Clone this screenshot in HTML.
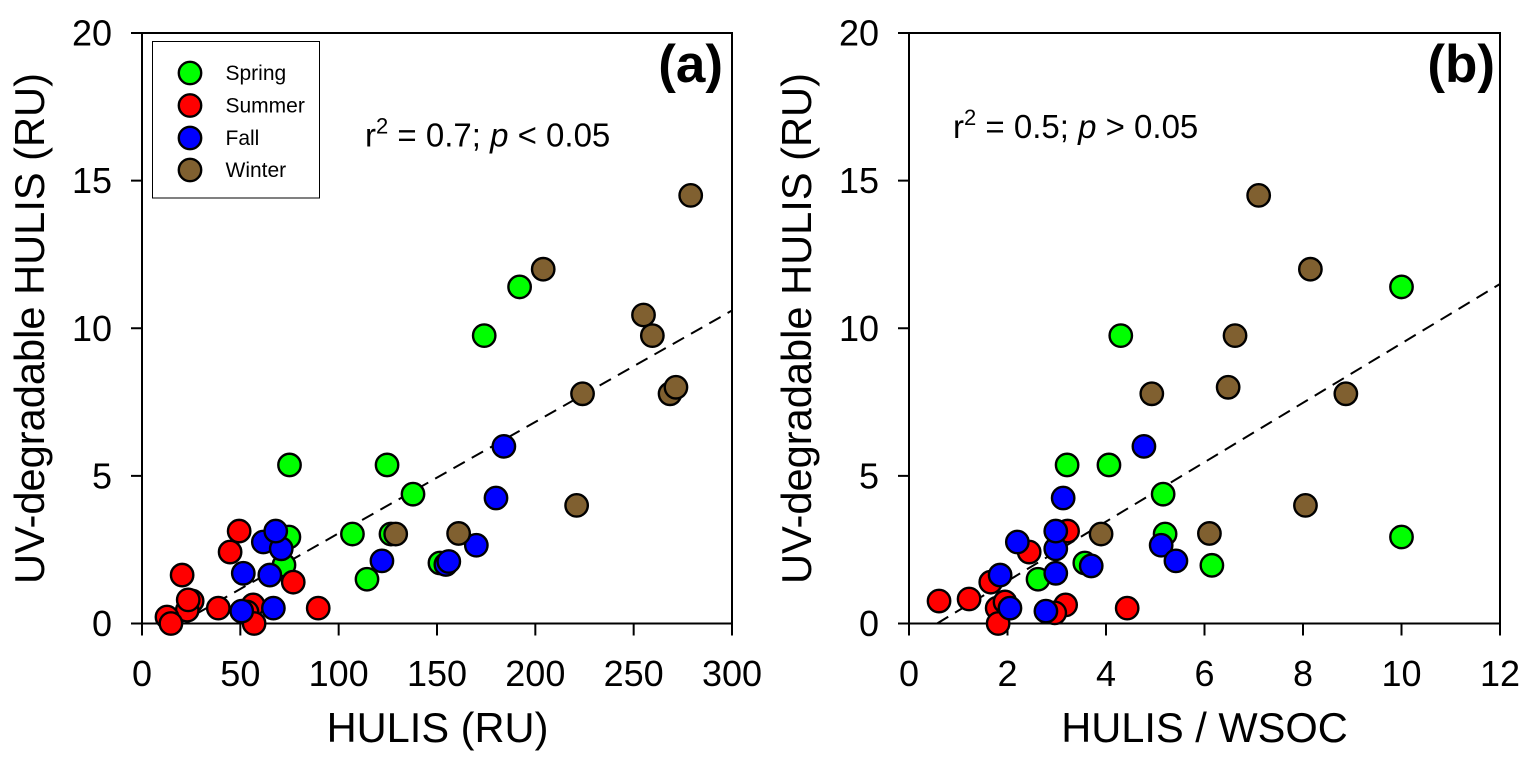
<!DOCTYPE html>
<html>
<head>
<meta charset="utf-8">
<style>
html,body{margin:0;padding:0;background:#fff;}
svg{display:block;font-family:"Liberation Sans",Arial,sans-serif;fill:#000;}
</style>
</head>
<body>
<svg id="chart" width="1538" height="762" viewBox="0 0 1538 762" xmlns="http://www.w3.org/2000/svg"></svg>
<script>
const xTicksA = [0, 50, 100, 150, 200, 250, 300];
const xTicksB = [0, 2, 4, 6, 8, 10, 12];
const yTicks = [0, 5, 10, 15, 20];
const seasons = ['Spring', 'Summer', 'Fall', 'Winter'];

const springA = [[75,5.37],[124.6,5.37],[137.8,4.38],[107,3.03],[126.6,3.03],[114.4,1.5],[74.7,2.93],[72.2,1.98],[151.5,2.05],[192,11.4],[174,9.75]];
const summerA = [[20.4,1.64],[49.4,3.13],[44.8,2.42],[76.9,1.4],[89.6,0.52],[38.8,0.52],[25.5,0.76],[23,0.45],[23.5,0.8],[12.7,0.22],[14.7,0],[56.5,0.63],[53.4,0.39],[57,0]];
const fallA = [[51.5,1.7],[65,1.64],[61.7,2.76],[70.8,2.53],[68,3.13],[50.7,0.42],[66.8,0.52],[122,2.12],[154.5,2.0],[156,2.1],[170,2.65],[180,4.25],[184,6]];
const winterA = [[279,14.5],[204,12],[255,10.45],[259.5,9.75],[224,7.78],[268.5,7.78],[271.5,8],[221,4],[161,3.05],[129,3.03]];

const springB = [[3.21,5.37],[4.06,5.37],[5.16,4.38],[5.2,3.03],[6.15,1.97],[2.62,1.5],[3.57,2.05],[10,2.93],[10,11.4],[4.3,9.75]];
const summerB = [[0.61,0.76],[1.22,0.83],[1.66,1.4],[2.44,2.42],[3.22,3.13],[4.43,0.52],[3.18,0.63],[2.96,0.36],[1.79,0.52],[1.95,0.73],[1.81,0]];
const fallB = [[1.85,1.64],[2.2,2.76],[2.98,2.53],[2.98,3.13],[2.98,1.7],[2.05,0.52],[2.78,0.42],[3.7,1.95],[5.12,2.65],[5.42,2.12],[3.13,4.25],[4.77,6]];
const winterB = [[7.1,14.5],[8.15,12],[6.62,9.75],[8.87,7.78],[4.93,7.78],[6.48,8],[8.05,4],[6.1,3.05],[3.9,3.03]];

const fitA = [[19,0],[300,10.6]];
const fitB = [[0.57,0],[12,11.5]];

const colors = {Spring:'#00ff00', Summer:'#ff0000', Fall:'#0000ff', Winter:'#806030'};
const NS = 'http://www.w3.org/2000/svg';
const svg = document.getElementById('chart');

function make(tag, attrs, parent, text) {
  const el = document.createElementNS(NS, tag);
  for (const k in attrs) el.setAttribute(k, attrs[k]);
  if (text !== undefined) el.textContent = text;
  (parent || svg).appendChild(el);
  return el;
}

function panel(id, box, xTicks, xMax, xTitle, xTitleX, fit, series, letter, letterX) {
  const sx = v => box.x0 + (v / xMax) * (box.x1 - box.x0);
  const sy = v => box.y0 + (v / 20) * (box.y1 - box.y0);
  const g = make('g', {}, svg);
  
  

  const frame = make('rect', {x:box.x0, y:box.y1, width:box.x1-box.x0, height:box.y0-box.y1, fill:'none', stroke:'#000', 'stroke-width':2}, g);
  
  

  xTicks.forEach(t => {
    const line = make('line', {x1:sx(t), x2:sx(t), y1:box.y0, y2:box.y0+12, stroke:'#000', 'stroke-width':2}, g);
    
    
    const label = make('text', {x:sx(t), y:686, 'text-anchor':'middle', 'font-size':36}, g, String(t));
    
    
  });
  yTicks.forEach(t => {
    const line = make('line', {x1:box.x0-11, x2:box.x0, y1:sy(t), y2:sy(t), stroke:'#000', 'stroke-width':2}, g);
    
    
    const label = make('text', {x:box.x0-30, y:sy(t)+12.5, 'text-anchor':'end', 'font-size':36}, g, String(t));
    
    
  });

  const xt = make('text', {x:xTitleX, y:742, 'text-anchor':'middle', 'font-size':41.6}, g, xTitle);
  
  
  const yx = box.x0 - 98;
  const yt = make('text', {x:yx, y:328.5, 'text-anchor':'middle', 'font-size':41.6, transform:'rotate(-90 ' + yx + ' 328.5)'}, g, 'UV-degradable HULIS (RU)');
  
  

  const fl = make('line', {x1:sx(fit[0][0]), y1:sy(fit[0][1]), x2:sx(fit[1][0]), y2:sy(fit[1][1]), stroke:'#000', 'stroke-width':2, 'stroke-dasharray':'13 8'}, g);
  
  

  seasons.forEach((s, i) => {
    series[i].forEach(p => {
      const c = make('circle', {cx:sx(p[0]), cy:sy(p[1]), r:11.2, fill:colors[s], stroke:'#000', 'stroke-width':2.4}, g);
      
      
    });
  });

  const lt = make('text', {x:letterX, y:82, 'text-anchor':'end', 'font-size':53, 'font-weight':'bold'}, g, letter);
  
  
}

panel('panel-a', {x0:142, x1:732, y0:623.5, y1:33}, xTicksA, 300, 'HULIS (RU)', 437.5, fitA, [springA, summerA, fallA, winterA], '(a)', 723);
panel('panel-b', {x0:909, x1:1500, y0:623.5, y1:33}, xTicksB, 12, 'HULIS / WSOC', 1204.5, fitB, [springB, summerB, fallB, winterB], '(b)', 1495);

/* legend */
const legend = make('g', {}, svg);


const legendBox = make('rect', {x:152.5, y:41.5, width:167, height:156.5, fill:'#fff', stroke:'#000', 'stroke-width':1}, legend);


const legendYs = [73, 105.5, 138, 170];
seasons.forEach((s, i) => {
  const c = make('circle', {cx:190, cy:legendYs[i], r:11.2, fill:colors[s], stroke:'#000', 'stroke-width':2.4}, legend);
  
  
  const t = make('text', {x:225.5, y:legendYs[i]+7, 'font-size':21}, legend, s);
  
  
});

/* annotations */
function note(name, x, y, r2, op) {
  const t = make('text', {x:x, y:y, 'font-size':33}, svg);
  
  
  make('tspan', {}, t, 'r');
  make('tspan', {dy:-13, 'font-size':22}, t, '2');
  make('tspan', {dy:13}, t, ' = ' + r2 + '; ');
  make('tspan', {'font-style':'italic'}, t, 'p');
  make('tspan', {}, t, ' ' + op + ' 0.05');
}
note('r-squared-annotation-a', 365, 146.5, '0.7', '<');
note('r-squared-annotation-b', 953, 138, '0.5', '>');
</script>
</body>
</html>
